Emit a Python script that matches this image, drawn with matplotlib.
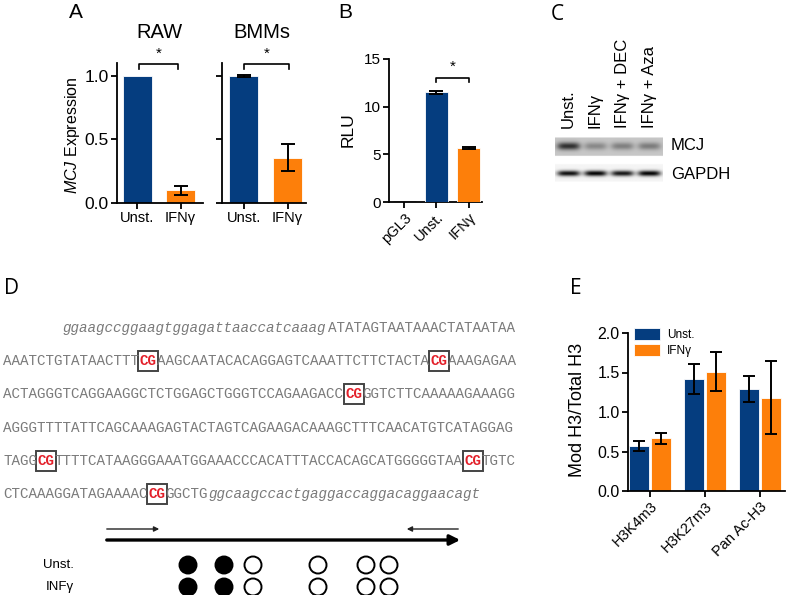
import numpy as np
import matplotlib
matplotlib.use('Agg')
import matplotlib.pyplot as plt
from matplotlib.patches import Rectangle, Ellipse, FancyArrowPatch

plt.rcParams['font.family'] = ['Liberation Sans', 'DejaVu Sans']
plt.rcParams['mathtext.fontset'] = 'custom'
plt.rcParams['mathtext.rm'] = 'Liberation Sans'
plt.rcParams['mathtext.it'] = 'Liberation Sans:italic'

# ---------------- data ----------------
a_categories = ['Unst.', 'IFNγ']
raw_values = [1.0, 0.10]
raw_err = [0.0, 0.035]
bmm_values = [1.0, 0.355]
bmm_err = [0.008, 0.105]

b_categories = ['pGL3', 'Unst.', 'IFNγ']
b_values = [0.05, 11.5, 5.65]
b_err = [0.02, 0.15, 0.07]

c_lanes = ['Unst.', 'IFNγ', 'IFNγ + DEC', 'IFNγ + Aza']
c_mcj_intensity = [0.85, 0.35, 0.40, 0.42]
c_gapdh_intensity = [0.95, 1.0, 0.92, 1.0]

seq_lines = [
    "       ggaagccggaagtggagattaaccatcaaagATATAGTAATAAACTATAATAA",
    "AAATCTGTATAACTTT[CG]AAGCAATACACAGGAGTCAAATTCTTCTACTA[CG]AAAGAGAA",
    "ACTAGGGTCAGGAAGGCTCTGGAGCTGGGTCCAGAAGACC[CG]GGTCTTCAAAAAGAAAGG",
    "AGGGTTTTATTCAGCAAAGAGTACTAGTCAGAAGACAAAGCTTTCAACATGTCATAGGAG",
    "TAGG[CG]TTTTCATAAGGGAAATGGAAACCCACATTTACCACAGCATGGGGGTAA[CG]TGTC",
    "CTCAAAGGATAGAAAAC[CG]GGCTGggcaagccactgaggaccaggacaggaacagt",
]
meth_rows = ['Unst.', 'INFγ']
meth_unst = [1, 1, 0, 0, 0, 0]
meth_ifn = [1, 1, 0, 0, 0, 0]

e_groups = ['H3K4m3', 'H3K27m3', 'Pan Ac-H3']
e_unst = [0.57, 1.42, 1.29]
e_unst_err = [0.065, 0.19, 0.16]
e_ifn = [0.67, 1.51, 1.18]
e_ifn_err = [0.07, 0.25, 0.46]

# ---------------- layout ----------------
W, H = 787, 595
BLUE = '#053d7f'
ORANGE = '#fd7f0a'
fig = plt.figure(figsize=(W / 100, H / 100), dpi=100)


def px_axes(l, t, r, b, **kw):
    return fig.add_axes([l / W, 1 - b / H, (r - l) / W, (b - t) / H], **kw)


def ftext(x, y, s, **kw):
    return fig.text(x / W, 1 - y / H, s, **kw)


def style(ax, lab=11):
    for s in ['top', 'right']:
        ax.spines[s].set_visible(False)
    for s in ['left', 'bottom']:
        ax.spines[s].set_linewidth(1.3)
    ax.tick_params(direction='out', length=4, width=1.3, labelsize=lab, pad=2)


def bars(ax, vals, errs, colors, width):
    x = np.arange(len(vals))
    ax.bar(x, vals, width=width, color=colors, edgecolor='white', linewidth=0.6, zorder=2)
    for xi, v, e in zip(x, vals, errs):
        if e > 0:
            ax.errorbar(xi, v, yerr=e, color='k', capsize=5, elinewidth=1.4,
                        capthick=1.4, zorder=3)
    return x


def bracket(ax, x0, x1, y, h, ystar):
    ax.plot([x0, x0, x1, x1], [y - h, y, y, y - h], color='k', lw=1.2, clip_on=False)
    ax.text((x0 + x1) / 2, ystar, '*', ha='center', va='center', fontsize=11)


# overlay axes for panel D in pixel coords
axD = fig.add_axes([0, 0, 1, 1])
axD.set_xlim(0, W)
axD.set_ylim(H, 0)
axD.axis('off')

# ---------------- Panel A ----------------
axA1 = px_axes(117, 63, 203, 203)
style(axA1, 12.5)
x = bars(axA1, raw_values, raw_err, [BLUE, ORANGE], 0.66)
axA1.set_xlim(-0.47, 1.52)
axA1.set_ylim(0, 1.1)
axA1.set_yticks([0, 0.5, 1.0])
axA1.set_yticklabels(['0.0', '0.5', '1.0'])
axA1.set_xticks(x)
axA1.set_xticklabels(a_categories, fontsize=10.5)
bracket(axA1, 0.05, 0.95, 1.09, 0.035, 1.17)

axA2 = px_axes(222, 63, 306, 203)
style(axA2, 12.5)
x = bars(axA2, bmm_values, bmm_err, [BLUE, ORANGE], 0.66)
axA2.set_xlim(-0.5, 1.42)
axA2.set_ylim(0, 1.1)
axA2.set_yticks([0, 0.5, 1.0])
axA2.set_yticklabels([])
axA2.set_xticks(x)
axA2.set_xticklabels(a_categories, fontsize=10.5)
bracket(axA2, 0.0, 1.03, 1.09, 0.035, 1.17)

ftext(159, 32, 'RAW', ha='center', va='center', fontsize=14.5)
ftext(262, 32, 'BMMs', ha='center', va='center', fontsize=14.5)
ftext(72, 135, r'$\mathit{MCJ}$ Expression', rotation=90, ha='center', va='center', fontsize=11.5)
ftext(76, 13, 'A', ha='center', va='center', fontsize=15)

# ---------------- Panel B ----------------
axB = px_axes(389, 59, 482, 202)
style(axB, 11)
x = np.arange(len(b_values))
axB.bar(x, b_values, width=0.7, color=['#222222', BLUE, ORANGE],
        edgecolor=['#111111', 'white', 'white'], linewidth=[1.8, 0.6, 0.6], zorder=3)
for xi, v, e in zip(x[1:], b_values[1:], b_err[1:]):
    axB.errorbar(xi, v, yerr=e, color='k', capsize=5, elinewidth=1.4, capthick=1.4, zorder=4)
axB.set_xlim(-0.48, 2.42)
axB.set_ylim(0, 15)
axB.set_yticks([0, 5, 10, 15])
axB.set_xticks(x)
axB.set_xticklabels(b_categories, rotation=45, ha='right', rotation_mode='anchor', fontsize=10.5)
bracket(axB, 1.0, 2.0, 13.0, 0.45, 14.2)
ftext(348, 130, 'RLU', rotation=90, ha='center', va='center', fontsize=12.5)
ftext(345, 13, 'B', ha='center', va='center', fontsize=15)

# ---------------- Panel C (western blot) ----------------
axC = px_axes(555, 135, 663, 186)
bx = np.linspace(0, 108, 217)
by = np.linspace(135, 186, 103)
XX, YY = np.meshgrid(bx, by)
img = np.zeros_like(XX)
mcj_bg = (YY > 137) & (YY < 156)
img += 0.22 * mcj_bg
gap_bg = (YY > 164) & (YY < 182)
img += 0.04 * gap_bg
for i, (m, g) in enumerate(zip(c_mcj_intensity, c_gapdh_intensity)):
    c = 13.5 + 27 * i
    prof = np.exp(-((XX - c) / 11.5) ** 4)
    img += 0.7 * m * prof * np.exp(-((YY - 146) / 3.8) ** 2) * mcj_bg
    img += 0.95 * g * prof * np.exp(-((YY - 173.5) / 2.8) ** 2)
img = np.clip(img, 0, 1)
axC.imshow(img, cmap='gray_r', vmin=0, vmax=1, extent=[555, 663, 186, 135], aspect='auto',
           interpolation='bilinear')
axC.axis('off')
for i, lab in enumerate(c_lanes):
    ftext(568.5 + 27 * i, 128, lab, rotation=90, ha='center', va='bottom', fontsize=12)
ftext(671, 146, 'MCJ', ha='left', va='center', fontsize=12)
ftext(671, 174, 'GAPDH', ha='left', va='center', fontsize=12)
ftext(557, 14, 'C', ha='center', va='center', fontsize=15, family=['Open Sans', 'DejaVu Sans'])

# ---------------- Panel D (sequence) ----------------
ftext(12, 288, 'D', ha='center', va='center', fontsize=15, family=['Open Sans', 'DejaVu Sans'])


def segments(line):
    segs = []
    col = 0
    i = 0
    while i < len(line):
        if line[i] == '[':
            j = line.index(']', i)
            segs.append([col, line[i + 1:j], 'cpg'])
            col += j - i - 1
            i = j + 1
            continue
        ch = line[i]
        kind = 'space' if ch == ' ' else ('lower' if ch.islower() else 'upper')
        if segs and segs[-1][2] == kind and segs[-1][0] + len(segs[-1][1]) == col:
            segs[-1][1] += ch
        else:
            segs.append([col, ch, kind])
        col += 1
        i += 1
    return segs


cw = 8.55
x0 = 3.0
mono = ['Liberation Mono', 'DejaVu Sans Mono']
fs = cw / 0.6 / (100 / 72)
for li, line in enumerate(seq_lines):
    y = 328 + 33.2 * li
    for col, txt, kind in segments(line):
        if kind == 'space':
            continue
        xx = x0 + col * cw
        if kind == 'cpg':
            axD.text(xx, y, txt, ha='left', va='center', fontsize=fs, family=mono,
                     color='#e3202a', fontweight='bold')
            axD.add_patch(Rectangle((xx - 1.5, y - 10), len(txt) * cw + 3, 20, fill=False,
                                    edgecolor='#444444', lw=1.4))
        else:
            axD.text(xx, y, txt, ha='left', va='center', fontsize=fs, family=mono,
                     color='#7a7a7a', style='italic' if kind == 'lower' else 'normal')

# primer arrows and amplicon
axD.add_patch(FancyArrowPatch((104, 529), (162, 529), arrowstyle='-|>,head_length=3,head_width=1.5',
                              lw=1.0, color='#222222', mutation_scale=1))
axD.add_patch(FancyArrowPatch((461, 529), (404, 529), arrowstyle='-|>,head_length=3,head_width=1.5',
                              lw=1.0, color='#222222', mutation_scale=1))
axD.add_patch(FancyArrowPatch((104, 540), (463, 540), arrowstyle='-|>,head_length=6,head_width=3',
                              lw=2.4, color='black', mutation_scale=1))

circle_x = [188, 224, 253, 318, 366, 389]
for ri, (lab, meth) in enumerate(zip(meth_rows, [meth_unst, meth_ifn])):
    y = 565 + 22 * ri
    axD.text(74, y, lab, ha='right', va='center', fontsize=9.5)
    for cx, m in zip(circle_x, meth):
        axD.add_patch(Ellipse((cx, y), 17, 17, facecolor='black' if m else 'white',
                              edgecolor='black', lw=1.4))

# ---------------- Panel E ----------------
axE = px_axes(628, 333, 785, 491)
style(axE, 11.5)
g = np.arange(len(e_groups))
bw = 0.36
axE.bar(g - 0.2, e_unst, width=bw, color=BLUE, edgecolor='white', linewidth=0.6, zorder=2, label='Unst.')
axE.bar(g + 0.2, e_ifn, width=bw, color=ORANGE, edgecolor='white', linewidth=0.6, zorder=2, label='IFNγ')
axE.errorbar(g - 0.2, e_unst, yerr=e_unst_err, fmt='none', ecolor='k', capsize=4.5, elinewidth=1.4,
             capthick=1.4, zorder=3)
axE.errorbar(g + 0.2, e_ifn, yerr=e_ifn_err, fmt='none', ecolor='k', capsize=4.5, elinewidth=1.4,
             capthick=1.4, zorder=3)
axE.set_xlim(-0.4, 2.45)
axE.set_ylim(0, 2.0)
axE.set_yticks([0, 0.5, 1.0, 1.5, 2.0])
axE.set_yticklabels(['0.0', '0.5', '1.0', '1.5', '2.0'])
axE.set_xticks(g)
axE.set_xticklabels(e_groups, rotation=45, ha='right', rotation_mode='anchor', fontsize=10.5)
axE.legend(loc='upper left', bbox_to_anchor=(0.01, 1.06), frameon=False, fontsize=8.5,
           handlelength=2.2, handleheight=1.1, labelspacing=0.3, borderaxespad=0, handletextpad=0.6)
ftext(578, 410, 'Mod H3/Total H3', rotation=90, ha='center', va='center', fontsize=13)
ftext(576, 288, 'E', ha='center', va='center', fontsize=15, family=['Open Sans', 'DejaVu Sans'])

fig.savefig('out.png', dpi=100)
